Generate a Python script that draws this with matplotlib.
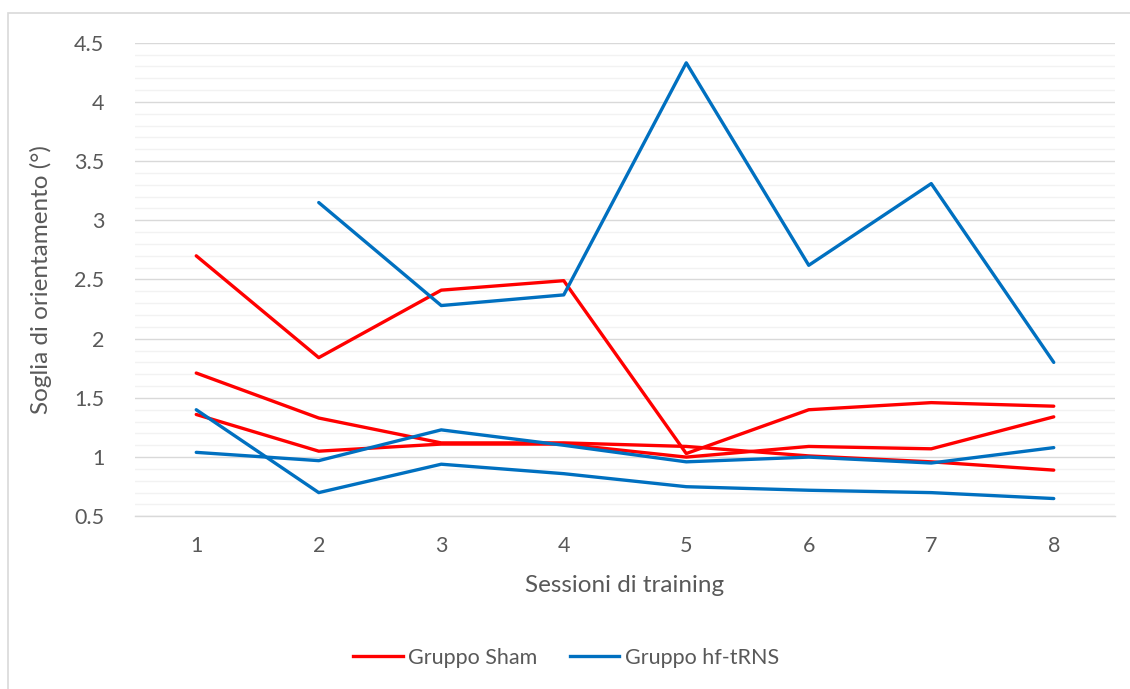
import matplotlib.pyplot as plt
import numpy as np
from matplotlib.patches import Rectangle
from matplotlib.ticker import MultipleLocator

plt.rcParams['font.family'] = ['Lato', 'DejaVu Sans']

sessions = [1, 2, 3, 4, 5, 6, 7, 8]

# Gruppo Sham (three participants)
sham_1 = [2.70, 1.84, 2.41, 2.49, 1.03, 1.40, 1.46, 1.43]
sham_2 = [1.71, 1.33, 1.12, 1.12, 1.09, 1.01, 0.96, 0.89]
sham_3 = [1.36, 1.05, 1.11, 1.11, 1.00, 1.09, 1.07, 1.34]

# Gruppo hf-tRNS (three participants, first missing session 1)
trns_1 = [np.nan, 3.15, 2.28, 2.37, 4.33, 2.62, 3.31, 1.80]
trns_2 = [1.40, 0.70, 0.94, 0.86, 0.75, 0.72, 0.70, 0.65]
trns_3 = [1.04, 0.97, 1.23, 1.10, 0.96, 1.00, 0.95, 1.08]

red = '#ff0000'
blue = '#0070c0'
grey_text = '#595959'

fig = plt.figure(figsize=(11.3, 6.89), dpi=100)
ax = fig.add_axes([135 / 1130, 1 - 516.3 / 689, 980 / 1130, (516.3 - 42.7) / 689])

# chart area border (Excel style)
fig.patches.append(Rectangle((8 / 1130, -0.1), 1.2, 1 - 13 / 689 + 0.1,
                             transform=fig.transFigure, fill=False,
                             edgecolor='#d9d9d9', linewidth=1.2, zorder=0))

for s in [sham_1, sham_2, sham_3]:
    ax.plot(sessions, s, color=red, linewidth=2.4, solid_capstyle='round', zorder=3)
for s in [trns_1, trns_2, trns_3]:
    ax.plot(sessions, s, color=blue, linewidth=2.4, solid_capstyle='round', zorder=3)

ax.set_xlim(0.5, 8.5)
ax.set_ylim(0.5, 4.5)
ax.set_xticks(sessions)
ax.yaxis.set_major_locator(MultipleLocator(0.5))
ax.yaxis.set_minor_locator(MultipleLocator(0.1))
ax.set_yticks([0.5, 1, 1.5, 2, 2.5, 3, 3.5, 4, 4.5])
ax.set_yticklabels(['0.5', '1', '1.5', '2', '2.5', '3', '3.5', '4', '4.5'])

ax.grid(which='minor', axis='y', color='#f2f2f2', linewidth=1.0, zorder=0)
ax.grid(which='major', axis='y', color='#d9d9d9', linewidth=1.0, zorder=1)
ax.set_axisbelow(True)

for side in ['top', 'right', 'left']:
    ax.spines[side].set_visible(False)
ax.spines['bottom'].set_color('#d9d9d9')
ax.spines['bottom'].set_linewidth(1.0)

ax.tick_params(axis='both', which='both', length=0, labelsize=15.5, colors=grey_text)
ax.tick_params(axis='y', pad=22)
ax.tick_params(axis='x', pad=14)

ax.set_xlabel('Sessioni di training', fontsize=17.5, color=grey_text, labelpad=14)
ax.set_ylabel('Soglia di orientamento (°)', fontsize=17.5, color=grey_text, labelpad=16)

handles = [plt.Line2D([], [], color=red, linewidth=2.4),
           plt.Line2D([], [], color=blue, linewidth=2.4)]
fig.legend(handles, ['Gruppo Sham', 'Gruppo hf-tRNS'], loc='center',
           bbox_to_anchor=(566 / 1130, 1 - 658 / 689), ncol=2, frameon=False,
           fontsize=15.5, labelcolor=grey_text, handlelength=2.3, columnspacing=1.5,
           handletextpad=0.25)

fig.savefig('out.png', dpi=100)
